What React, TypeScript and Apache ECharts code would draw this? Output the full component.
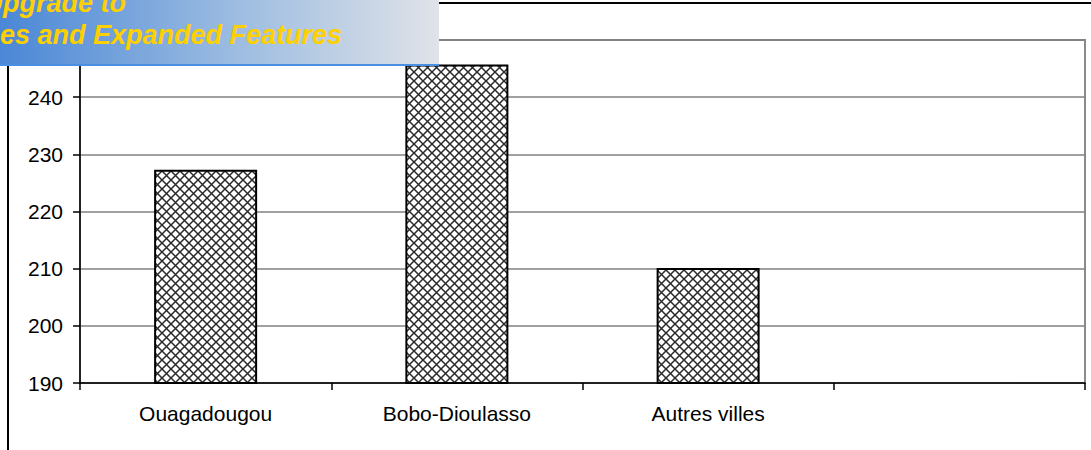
import React, { useEffect, useRef } from "react";
import * as echarts from "echarts";

const categories = ["Ouagadougou", "Bobo-Dioulasso", "Autres villes", ""];
const values: (number | null)[] = [227.3, 245.7, 210.1, null];
const yMin = 190;
const yMax = 250;
const yStep = 10;
const bannerLine1 = "Upgrade to";
const bannerLine2 = "es and Expanded Features";

const FONT = '"Liberation Sans", Arial, sans-serif';

function makeHatch(): HTMLCanvasElement {
  const c = document.createElement("canvas");
  const s = 9;
  c.width = s;
  c.height = s;
  const ctx = c.getContext("2d")!;
  ctx.fillStyle = "#ffffff";
  ctx.fillRect(0, 0, s, s);
  ctx.strokeStyle = "#2a2a2a";
  ctx.lineWidth = 1.5;
  ctx.beginPath();
  ctx.moveTo(-1, -1);
  ctx.lineTo(s + 1, s + 1);
  ctx.moveTo(s + 1, -1);
  ctx.lineTo(-1, s + 1);
  ctx.stroke();
  return c;
}

export default function App() {
  const ref = useRef<HTMLDivElement>(null);
  useEffect(() => {
    if (!ref.current) return;
    const chart = echarts.init(ref.current, null, { renderer: "svg" });
    const hatch = makeHatch();
    chart.setOption({
      animation: false,
      backgroundColor: "#ffffff",
      grid: {
        left: 80,
        right: 6,
        top: 40,
        bottom: 67,
        show: true,
        borderColor: "#8a8a8a",
        borderWidth: 2,
        backgroundColor: "transparent",
      },
      xAxis: {
        type: "category",
        data: categories,
        boundaryGap: true,
        axisLine: { show: true, lineStyle: { color: "#000", width: 1.5 } },
        axisTick: { show: true, length: 7, lineStyle: { color: "#000", width: 1.5 } },
        axisLabel: { color: "#000", fontSize: 21, fontFamily: FONT, margin: 20 },
        splitLine: { show: false },
      },
      yAxis: {
        type: "value",
        min: yMin,
        max: yMax,
        interval: yStep,
        axisLine: { show: true, lineStyle: { color: "#000", width: 1.5 } },
        axisTick: { show: true, length: 7, lineStyle: { color: "#000", width: 1.5 } },
        axisLabel: {
          color: "#000",
          fontSize: 21,
          fontFamily: FONT,
          margin: 17,
          showMaxLabel: false,
        },
        splitLine: { show: true, lineStyle: { color: "#808080", width: 1.5 } },
      },
      series: [
        {
          type: "bar",
          data: values,
          barWidth: "41%",
          itemStyle: {
            color: { image: hatch, repeat: "repeat", imageWidth: 9, imageHeight: 9 },
            borderColor: "#000",
            borderWidth: 2,
          },
        },
      ],
      graphic: [
        {
          type: "rect",
          z: 50,
          silent: true,
          shape: { x: 8, y: 3, width: 2000, height: 1000 },
          style: { fill: "none", stroke: "#000", lineWidth: 2 },
        },
        {
          type: "rect",
          z: 100,
          silent: true,
          shape: { x: 0, y: 0, width: 439, height: 66 },
          style: {
            fill: new echarts.graphic.LinearGradient(0, 0, 1, 0, [
              { offset: 0, color: "#4a87d6" },
              { offset: 0.5, color: "#97b9e0" },
              { offset: 1, color: "#e0e3e8" },
            ]),
          },
        },
        {
          type: "rect",
          z: 101,
          silent: true,
          shape: { x: 0, y: 64, width: 439, height: 2 },
          style: { fill: "#4a8fe0" },
        },
        {
          type: "text",
          z: 102,
          silent: true,
          x: 126,
          y: 3,
          style: {
            text: bannerLine1,
            textAlign: "right",
            textVerticalAlign: "middle",
            fill: "#ffd000",
            font: `italic bold 27px ${FONT}`,
          },
        },
        {
          type: "text",
          z: 102,
          silent: true,
          x: 0,
          y: 35,
          style: {
            text: bannerLine2,
            textAlign: "left",
            textVerticalAlign: "middle",
            fill: "#ffd000",
            font: `italic bold 27px ${FONT}`,
          },
        },
      ],
    });
    return () => chart.dispose();
  }, []);
  return (
    <div
      ref={ref}
      style={{ position: "absolute", left: 0, top: 0, width: 1091, height: 450 }}
    />
  );
}
